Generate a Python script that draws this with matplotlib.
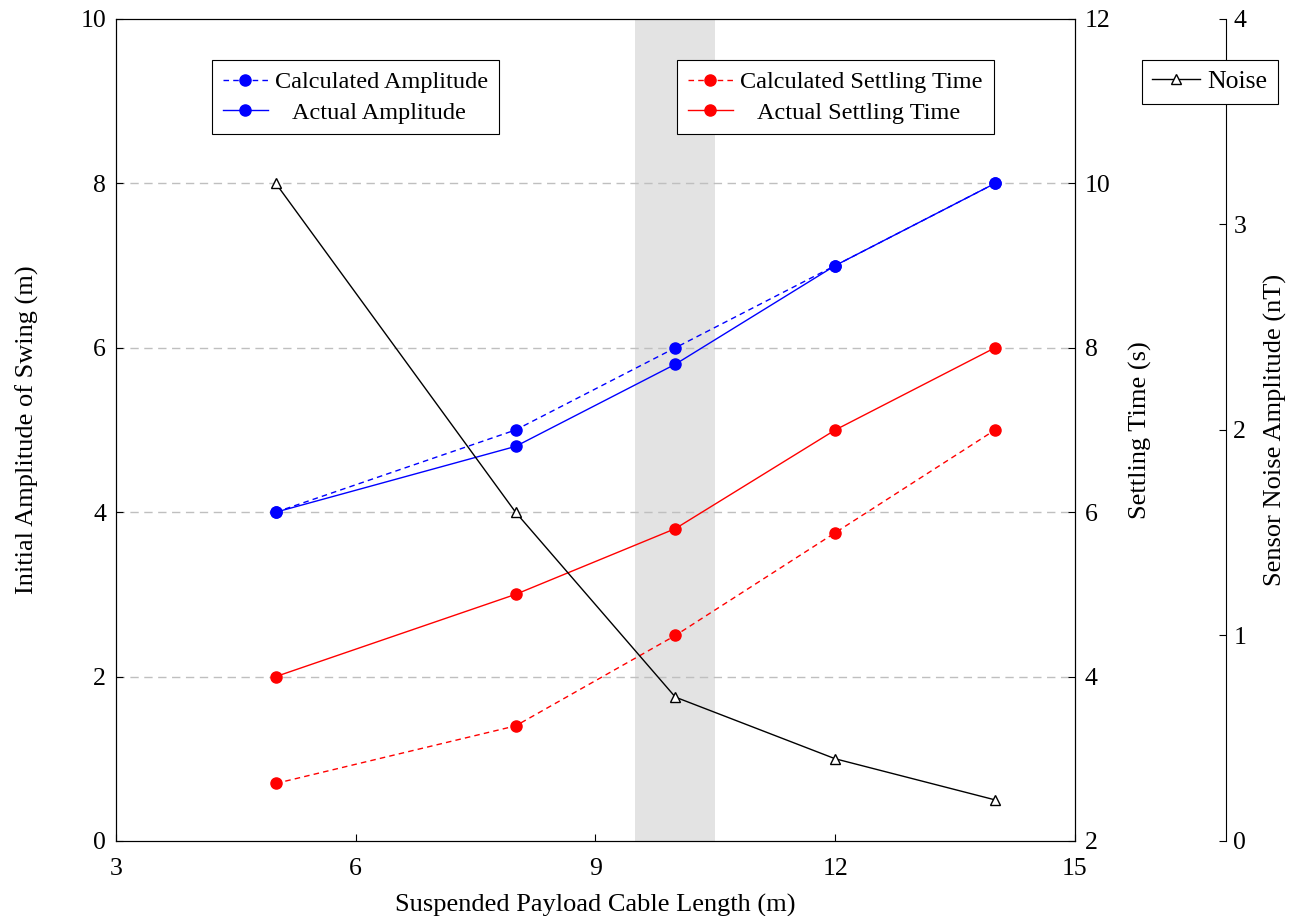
import matplotlib.pyplot as plt

plt.rcParams['font.family'] = ['Liberation Serif', 'DejaVu Serif']

# data
cable_len = [5, 8, 10, 12, 14]
calc_amp = [4, 5, 6, 7, 8]
actual_amp = [4, 4.8, 5.8, 7, 8]
calc_settle = [2.7, 3.4, 4.5, 5.75, 7]
actual_settle = [4, 5, 5.8, 7, 8]
noise = [3.2, 1.6, 0.7, 0.4, 0.2]
band = [9.5, 10.5]

fig = plt.figure(figsize=(12.9, 9.16), dpi=100)
ax = fig.add_axes([0.0899, 0.0819, 0.7434, 0.8974])

ax.axvspan(band[0], band[1], color='#e3e3e3', zorder=0, lw=0)
for yv in [2, 4, 6, 8]:
    ax.axhline(yv, color='#bfbfbf', ls=(0, (6, 4)), lw=1, zorder=0.5)

l1, = ax.plot(cable_len, calc_amp, ls=(0, (4, 3)), color='blue', lw=1,
              marker='o', ms=8, label='Calculated Amplitude')
l2, = ax.plot(cable_len, actual_amp, color='blue', lw=1,
              marker='o', ms=8, label='   Actual Amplitude')
ax.set_xlim(3, 15)
ax.set_ylim(0, 10)
ax.set_xticks([3, 6, 9, 12, 15])
ax.set_yticks([0, 2, 4, 6, 8, 10])
ax.set_xlabel('Suspended Payload Cable Length (m)', fontsize=19, labelpad=10)
ax.set_ylabel('Initial Amplitude of Swing (m)', fontsize=19, labelpad=30)
ax.tick_params(direction='in', labelsize=18.5, length=5, top=False)
ax.tick_params(axis='x', pad=12)
ax.tick_params(axis='y', pad=7)

ax2 = ax.twinx()
l3, = ax2.plot(cable_len, calc_settle, ls=(0, (4, 3)), color='red', lw=1,
               marker='o', ms=8, label='Calculated Settling Time')
l4, = ax2.plot(cable_len, actual_settle, color='red', lw=1,
               marker='o', ms=8, label='   Actual Settling Time')
ax2.set_ylim(2, 12)
ax2.set_yticks([2, 4, 6, 8, 10, 12])
ax2.set_ylabel('Settling Time (s)', fontsize=19, labelpad=13)
ax2.tick_params(direction='in', labelsize=18.5, length=5, pad=7)

ax3 = ax.twinx()
ax3.spines['right'].set_position(('outward', 109))
for s in ['top', 'bottom', 'left']:
    ax3.spines[s].set_visible(False)
l5, = ax3.plot(cable_len, noise, color='black', lw=1, marker='^', ms=7,
               mfc='white', mec='black', mew=1, label='Noise')
ax3.set_ylim(0, 4)
ax3.set_yticks([0, 1, 2, 3, 4])
ax3.set_ylabel('Sensor Noise Amplitude (nT)', fontsize=19, labelpad=13)
ax3.tick_params(direction='in', labelsize=18.5, length=5, pad=5)

leg_kw = dict(fontsize=17.5, fancybox=False, edgecolor='black', framealpha=1,
              handlelength=1.85, handletextpad=0.3, borderpad=0.45,
              labelspacing=0.35, borderaxespad=0)
lg1 = ax3.legend(handles=[l1, l2], loc='upper left', bbox_to_anchor=(0.1, 0.95), **leg_kw)
lg1.get_frame().set_linewidth(0.8)
ax3.add_artist(lg1)
lg2 = ax3.legend(handles=[l3, l4], loc='upper left', bbox_to_anchor=(0.585, 0.95), **leg_kw)
lg2.get_frame().set_linewidth(0.8)
ax3.add_artist(lg2)
lg3 = ax3.legend(handles=[l5], loc='upper left', bbox_to_anchor=(1.07, 0.95),
                 **{**leg_kw, 'fontsize': 18.5, 'handletextpad': 0.3, 'borderpad': 0.4})
lg3.get_frame().set_linewidth(0.8)

fig.savefig('out.png', dpi=100)
